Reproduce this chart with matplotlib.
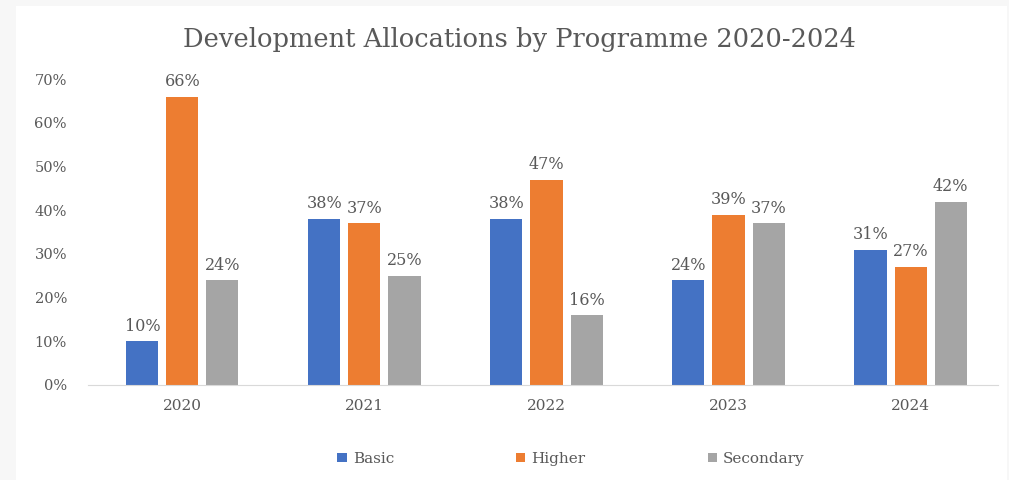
import matplotlib
matplotlib.use("Agg")
import matplotlib.pyplot as plt
import numpy as np
from matplotlib.ticker import PercentFormatter
from matplotlib.patches import Rectangle

years = ["2020", "2021", "2022", "2023", "2024"]
series_names = ["Basic", "Higher", "Secondary"]
basic = [10, 38, 38, 24, 31]
higher = [66, 37, 47, 39, 27]
secondary = [24, 25, 16, 37, 42]
colors = ["#4472C4", "#ED7D31", "#A5A5A5"]

plt.rcParams['font.family'] = ['DejaVu Serif']
text_color = "#595959"

fig = plt.figure(figsize=(10.09, 4.8), dpi=100, facecolor="#F7F7F7")
fig.patches.append(Rectangle((16 / 1009, 0), (1007 - 16) / 1009, 1 - 6 / 480,
                             transform=fig.transFigure, facecolor="white", edgecolor="none", zorder=-10))
ax = fig.add_axes([0.087, 0.198, 0.902, 0.637])
ax.set_facecolor("none")
ax.set_zorder(5)

x = np.arange(len(years))
width = 0.176
offsets = [-0.22, 0.0, 0.22]
for vals, name, col, off in zip([basic, higher, secondary], series_names, colors, offsets):
    bars = ax.bar(x + off, vals, width, color=col, label=name)
    for b, v in zip(bars, vals):
        ax.text(b.get_x() + b.get_width() / 2, v + 1.5, f"{v}%", ha="center", va="bottom",
                fontsize=11.5, color=text_color)

ax.set_xlim(-0.52, 4.48)
ax.set_ylim(0, 70)
ax.set_yticks(range(0, 71, 10))
ax.yaxis.set_major_formatter(PercentFormatter(decimals=0))
ax.set_xticks(x)
ax.set_xticklabels(years)
ax.tick_params(axis="both", length=0, colors=text_color)
ax.tick_params(axis="x", pad=10, labelsize=11)
ax.tick_params(axis="y", pad=15, labelsize=10.5)
for s in ["top", "right", "left"]:
    ax.spines[s].set_visible(False)
ax.spines["bottom"].set_color("#D9D9D9")

fig.text(0.515, 0.917, "Development Allocations by Programme 2020-2024", ha="center", va="center",
         fontsize=18.5, color=text_color)

handles, labels = ax.get_legend_handles_labels()
fig.legend(handles, labels, loc="center", bbox_to_anchor=(0.566, 0.044), ncol=3, frameon=False,
           fontsize=11, handlelength=0.6, handleheight=0.6, columnspacing=8.0, handletextpad=0.4,
           labelcolor=text_color)

fig.savefig("out.png", dpi=100, facecolor=fig.get_facecolor())
